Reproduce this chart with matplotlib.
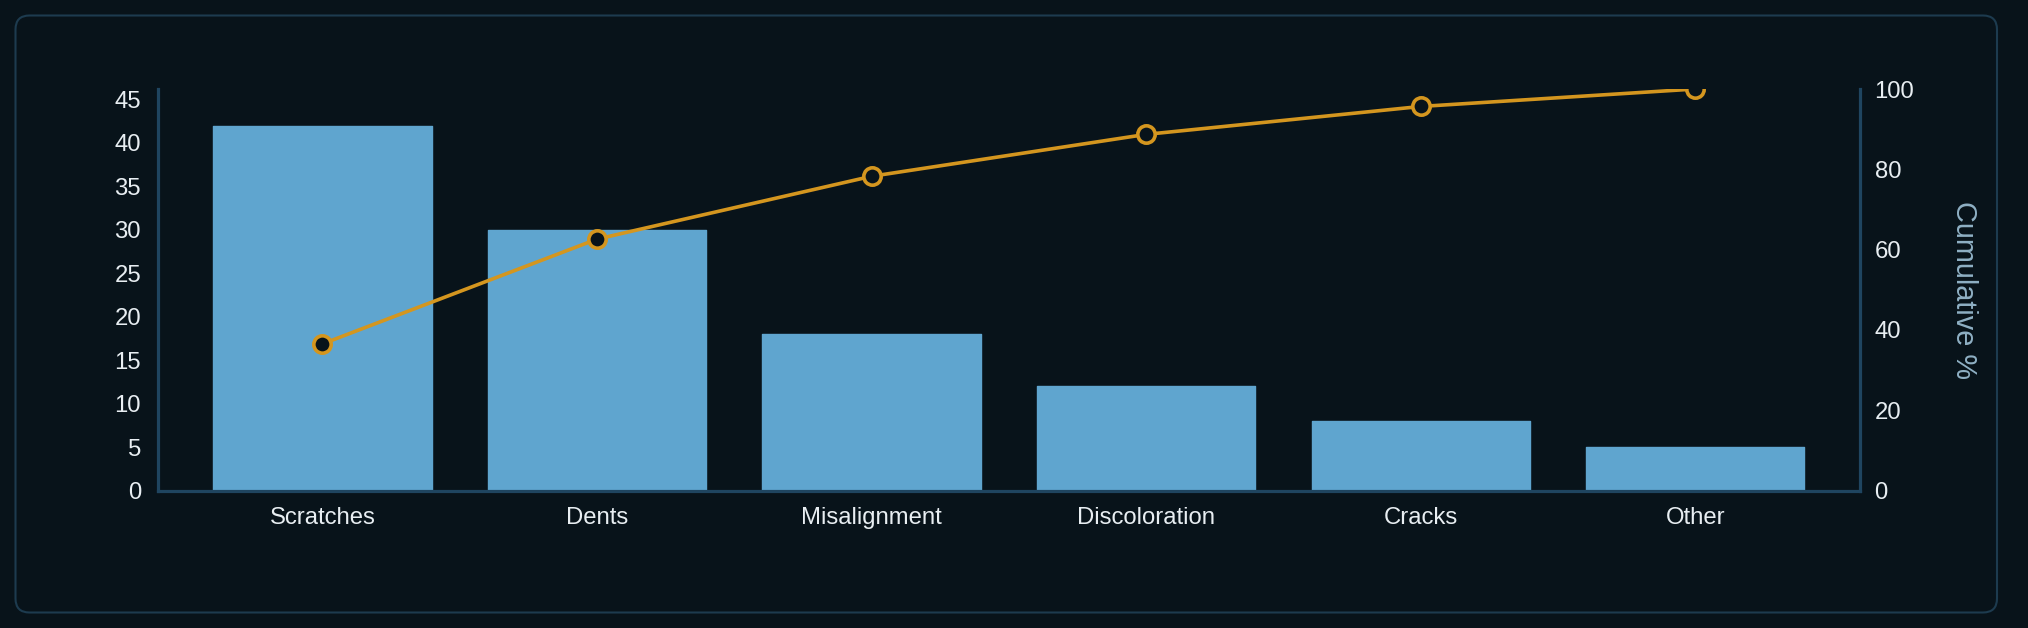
import matplotlib
matplotlib.use("Agg")
import matplotlib.pyplot as plt
from matplotlib.patches import FancyBboxPatch
import numpy as np

categories = ["Scratches", "Dents", "Misalignment", "Discoloration", "Cracks", "Other"]
counts = [42, 30, 18, 12, 8, 5]
cum_pct = list(np.cumsum(counts) / sum(counts) * 100)
left_ticks = [0, 5, 10, 15, 20, 25, 30, 35, 40, 45]
right_ticks = [0, 20, 40, 60, 80, 100]

BG = "#08131a"
BAR = "#5fa5cf"
LINE = "#d4961f"
SPINE = "#1f4560"
BORDER = "#1d3b4f"
TXT = "#e8eef2"
LABEL = "#8fb0c4"

plt.rcParams["font.family"] = ["Liberation Sans", "DejaVu Sans"]

fig = plt.figure(figsize=(20.28, 6.28), dpi=100, facecolor=BG)

# rounded panel border (inches, so corners stay round)
fig.patches.append(FancyBboxPatch((0.155, 0.155), 19.97 - 0.155, 6.125 - 0.155,
                                  boxstyle="round,pad=0,rounding_size=0.14", transform=fig.dpi_scale_trans,
                                  facecolor="none", edgecolor=BORDER, linewidth=1.5, zorder=-1))

ax = fig.add_axes([157.7 / 2028, (628 - 490.5) / 628, (1860 - 157.7) / 2028, (490.5 - 89) / 628])
ax.set_facecolor("none")
x = np.arange(len(categories))
bars = ax.bar(x, counts, width=0.795, color=BAR, zorder=2)
ax.set_xlim(-0.6, len(categories) - 0.4)
ax.set_ylim(0, max(counts) * 1.1)
ax.set_yticks(left_ticks)
ax.set_xticks(x)
ax.set_xticklabels(categories)
ax.tick_params(axis="both", length=0, colors=TXT, labelsize=17.2)
ax.tick_params(axis="y", pad=12)
ax.tick_params(axis="x", pad=12)
for s in ["top", "right"]:
    ax.spines[s].set_visible(False)
for s in ["left", "bottom"]:
    ax.spines[s].set_color(SPINE)
    ax.spines[s].set_linewidth(2.3)

# small rounded corners on the bars
for b in bars:
    b.set_joinstyle("round")
    b.set_edgecolor(BAR)
    b.set_linewidth(1.0)

ax2 = ax.twinx()
ax2.plot(x, cum_pct, color=LINE, linewidth=2.6, marker="o", markersize=12.5,
         markerfacecolor=BG, markeredgecolor=LINE, markeredgewidth=2.6, zorder=3)
ax2.set_ylim(0, 100)
ax2.set_yticks(right_ticks)
ax2.tick_params(axis="y", length=0, colors=TXT, labelsize=17.2, pad=10.5)
ax2.set_ylabel("Cumulative %", color=LABEL, fontsize=20.8, rotation=270, labelpad=46)
for s in ["top", "left", "bottom"]:
    ax2.spines[s].set_visible(False)
ax2.spines["right"].set_color(SPINE)
ax2.spines["right"].set_linewidth(2.3)

fig.savefig("out.png", dpi=100, facecolor=BG)
